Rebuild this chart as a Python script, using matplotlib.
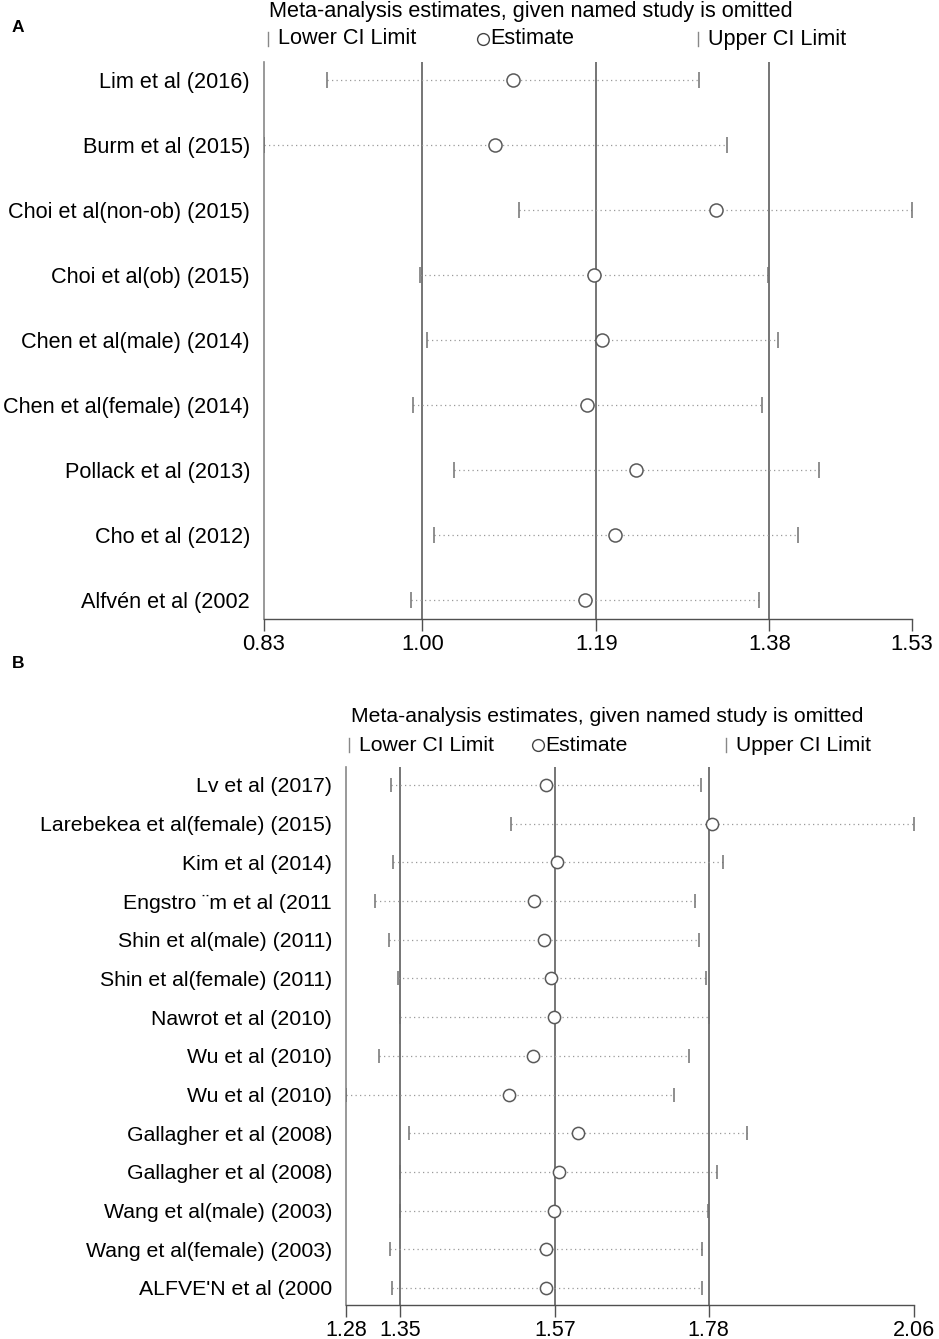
import matplotlib
matplotlib.use("Agg")
import matplotlib.pyplot as plt
from matplotlib.lines import Line2D

plt.rcParams['font.family'] = ['Liberation Sans', 'DejaVu Sans']

# ---------------- Data: panel A ----------------
studies_a = ["Lim et al (2016)", "Burm et al (2015)", "Choi et al(non-ob) (2015)",
             "Choi et al(ob) (2015)", "Chen et al(male) (2014)", "Chen et al(female) (2014)",
             "Pollack et al (2013)", "Cho et al (2012)", "Alfvén et al (2002"]
lower_a = [0.898, 0.830, 1.106, 0.999, 1.006, 0.991, 1.035, 1.014, 0.989]
est_a = [1.099, 1.079, 1.318, 1.186, 1.195, 1.179, 1.232, 1.209, 1.177]
upper_a = [1.300, 1.330, 1.530, 1.374, 1.385, 1.368, 1.429, 1.407, 1.365]
ref_a = [1.001, 1.189, 1.376]
ticks_a = [0.83, 1.001, 1.189, 1.376, 1.53]
ticklabels_a = ["0.83", "1.00", "1.19", "1.38", "1.53"]

# ---------------- Data: panel B ----------------
studies_b = ["Lv et al (2017)", "Larebekea et al(female) (2015)", "Kim et al (2014)",
             "Engstro \u00a8m et al (2011", "Shin et al(male) (2011)", "Shin et al(female) (2011)",
             "Nawrot et al (2010)", "Wu et al (2010)", "Wu et al (2010)",
             "Gallagher et al (2008)", "Gallagher et al (2008)", "Wang et al(male) (2003)",
             "Wang et al(female) (2003)", "ALFVE'N et al (2000"]
lower_b = [1.342, 1.506, 1.344, 1.320, 1.339, 1.351, 1.354, 1.325, 1.280,
           1.367, 1.354, 1.354, 1.341, 1.343]
est_b = [1.555, 1.782, 1.570, 1.538, 1.552, 1.562, 1.566, 1.537, 1.504,
         1.599, 1.572, 1.565, 1.554, 1.555]
upper_b = [1.767, 2.060, 1.798, 1.759, 1.765, 1.775, 1.778, 1.751, 1.730,
           1.830, 1.790, 1.777, 1.769, 1.769]
ref_b = [1.354, 1.567, 1.778]
ticks_b = [1.28, 1.354, 1.567, 1.778, 2.06]
ticklabels_b = ["1.28", "1.35", "1.57", "1.78", "2.06"]

W, H = 939, 1339
fig = plt.figure(figsize=(W / 100, H / 100), dpi=100)


def px(x, y):
    return x / W, 1 - y / H


def panel(ax, studies, lower, est, upper, ref, ticks, ticklabels, ylim,
          tick_ms, circ_ms, label_fs, tick_fs):
    n = len(studies)
    ys = list(range(n))
    for r in ref:
        ax.axvline(r, color='#505050', lw=1.1, zorder=1)
    for y, lo, e, up in zip(ys, lower, est, upper):
        ax.plot([lo, up], [y, y], color='#9a9a9a', lw=0.9,
                linestyle=(0, (1, 2.6)), zorder=2)
    ax.plot(lower, ys, linestyle='none', marker='|', markersize=tick_ms,
            markeredgewidth=1.1, color='#707070', zorder=3)
    ax.plot(upper, ys, linestyle='none', marker='|', markersize=tick_ms,
            markeredgewidth=1.1, color='#707070', zorder=3)
    ax.plot(est, ys, linestyle='none', marker='o', markersize=circ_ms,
            markerfacecolor='white', markeredgecolor='#5a5a5a',
            markeredgewidth=1.1, zorder=4)
    ax.set_xlim(ticks[0], ticks[-1])
    ax.set_ylim(*ylim)
    ax.set_yticks(ys)
    ax.set_yticklabels(studies, fontsize=label_fs)
    ax.tick_params(axis='y', length=0, pad=10)
    ax.set_xticks(ticks)
    ax.set_xticklabels(ticklabels, fontsize=tick_fs)
    ax.tick_params(axis='x', length=8.5, width=1.0, color='#505050', pad=2)
    for s in ['top', 'right']:
        ax.spines[s].set_visible(False)
    ax.spines['left'].set_color('#888888')
    ax.spines['left'].set_linewidth(1.2)
    ax.spines['bottom'].set_color('#505050')
    ax.spines['bottom'].set_linewidth(1.0)
    ax.patch.set_alpha(0)


# Panel A axes: x 264..912 px, y 62..619 px
axA = fig.add_axes([264 / W, 1 - 619 / H, (912 - 264) / W, (619 - 62) / H])
panel(axA, studies_a, lower_a, est_a, upper_a, ref_a, ticks_a, ticklabels_a,
      (8.29, -0.28), 11, 9.4, 15.6, 15.8)

# Panel B axes: x 346..914 px, y 767..1305 px
axB = fig.add_axes([346 / W, 1 - 1305 / H, (914 - 346) / W, (1305 - 767) / H])
panel(axB, studies_b, lower_b, est_b, upper_b, ref_b, ticks_b, ticklabels_b,
      (13.44, -0.465), 9.5, 8.8, 15.3, 15.5)

# Panel letters
fig.text(*px(12, 27), "A", fontsize=12.5, fontweight='bold', va='center', ha='left')
fig.text(*px(12, 664), "B", fontsize=12.5, fontweight='bold', va='center', ha='left')


def header(x0, ytitle, ylegend, xs, fs):
    fig.text(*px(x0, ytitle), "Meta-analysis estimates, given named study is omitted",
             fontsize=fs, va='center', ha='left')
    xl_bar, xl_txt, xe_c, xe_txt, xu_bar, xu_txt = xs
    for xb in (xl_bar, xu_bar):
        fig.add_artist(Line2D([xb / W, xb / W],
                              [1 - (ylegend - 7) / H, 1 - (ylegend + 7) / H],
                              color='#888888', lw=1.0))
    fig.add_artist(Line2D([xe_c / W], [1 - ylegend / H], marker='o',
                          markersize=8.5, markerfacecolor='white',
                          markeredgecolor='#444444', markeredgewidth=1.0,
                          linestyle='none'))
    fig.text(*px(xl_txt, ylegend), "Lower CI Limit", fontsize=fs, va='center', ha='left')
    fig.text(*px(xe_txt, ylegend), "Estimate", fontsize=fs, va='center', ha='left')
    fig.text(*px(xu_txt, ylegend), "Upper CI Limit", fontsize=fs, va='center', ha='left')


header(269, 11, 39, (268, 278, 483, 490, 698, 708), 15.6)
header(351, 717, 745, (349, 359, 538, 545, 726, 736), 15.2)

fig.savefig("out.png", dpi=100, facecolor='white')
